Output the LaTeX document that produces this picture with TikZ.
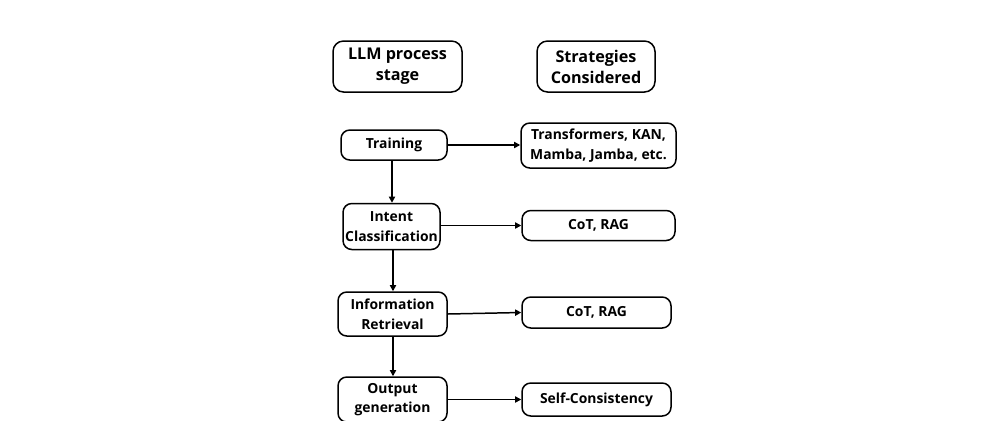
\documentclass[tikz,border=0pt]{standalone}
\usepackage{fontspec}
\setmainfont{Open Sans}
\usetikzlibrary{arrows.meta}
\begin{document}
\begin{tikzpicture}[x=0.02cm,y=-0.02cm,
  box/.style={draw=black,line width=0.85pt,rounded corners=5pt,align=center,
    font=\bfseries\fontsize{7.9pt}{11.2pt}\selectfont,inner sep=0pt},
  head/.style={box,font=\bfseries\fontsize{9.2pt}{11.9pt}\selectfont,rounded corners=6pt},
  conn/.style={line width=0.85pt,-{Triangle[length=3.5pt,width=3.5pt]}}]
\useasboundingbox[fill=white] (0,0) rectangle (1000,420);
\node[head,minimum width={129*0.02cm},minimum height={51*0.02cm}] (h1) at (397.5,66.5) {LLM process\\stage};
\node[head,minimum width={118*0.02cm},minimum height={51*0.02cm}] (h2) at (596,66.5) {Strategies\\Considered};
\node[box,minimum width={106*0.02cm},minimum height={30*0.02cm}] (a1) at (394,145) {\raisebox{-1pt}{Training}};
\node[box,minimum width={155*0.02cm},minimum height={45*0.02cm}] (b1) at (598.5,145.5) {Transformers, KAN,\\Mamba, Jamba, etc.};
\node[box,minimum width={97*0.02cm},minimum height={46*0.02cm}] (a2) at (391.5,226.5) {Intent\\Classification};
\node[box,minimum width={153*0.02cm},minimum height={30*0.02cm}] (b2) at (598.5,225.5) {CoT, RAG};
\node[box,minimum width={109*0.02cm},minimum height={44*0.02cm}] (a3) at (392.5,314) {Information\\Retrieval};
\node[box,minimum width={149*0.02cm},minimum height={31*0.02cm}] (b3) at (596.5,312.5) {CoT, RAG};
\node[box,minimum width={109*0.02cm},minimum height={45*0.02cm}] (a4) at (392.5,399.5) {Output\\generation};
\node[box,minimum width={149*0.02cm},minimum height={33*0.02cm}] (b4) at (596.5,399.5) {Self-Consistency};
\draw[conn,line width=1pt] (a1.east) -- (b1.west |- a1.east);
\draw[conn] (a2.east |- b2.west) -- (b2.west);
\draw[conn] (a3.east) -- (b3.west);
\draw[conn] (a4.east) -- (b4.west);
\draw[conn] (a1.south -| 392,0) -- (a2.north -| 392,0);
\draw[conn] (a2.south -| 393,0) -- (a3.north -| 393,0);
\draw[conn] (a3.south -| 393,0) -- (a4.north -| 393,0);
\end{tikzpicture}
\end{document}
